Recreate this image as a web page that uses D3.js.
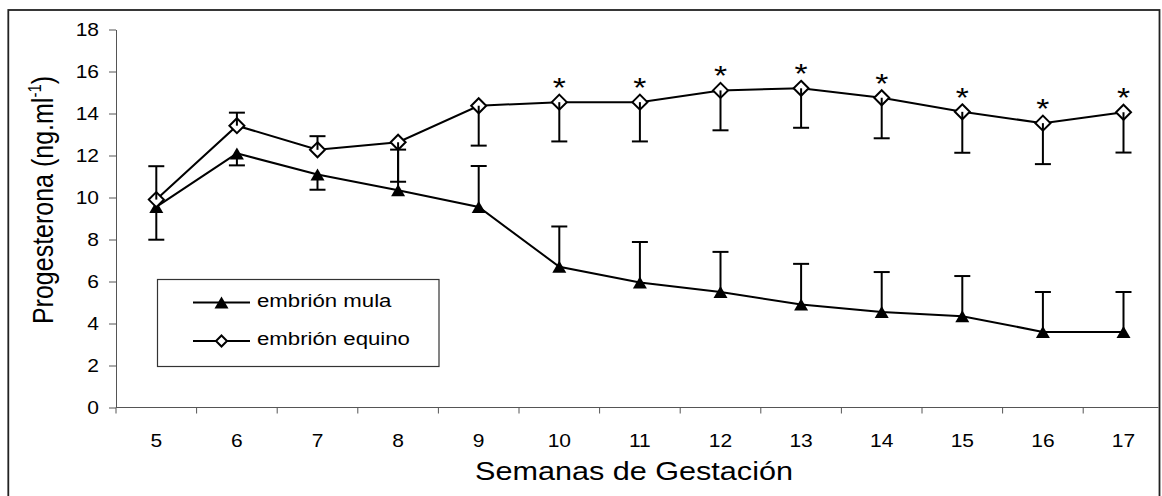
<!DOCTYPE html>
<html>
<head>
<meta charset="utf-8">
<script src="https://cdn.jsdelivr.net/npm/d3@7"></script>
<style>
  html, body { margin: 0; padding: 0; background: #fff; }
  svg { display: block; }
  text { font-family: "Liberation Sans", Arial, Helvetica, sans-serif; fill: #000; }
</style>
</head>
<body>
<svg id="chart" width="1162" height="496"></svg>
<script>
// ---- data ----
const weeks = [5, 6, 7, 8, 9, 10, 11, 12, 13, 14, 15, 16, 17];
const mula = [9.55, 12.1, 11.1, 10.35, 9.55, 6.7, 5.95, 5.5, 4.9, 4.55, 4.35, 3.6, 3.6];
const equino = [9.9, 13.42, 12.27, 12.63, 14.37, 14.54, 14.54, 15.1, 15.2, 14.75, 14.08, 13.54, 14.06];
const mulaErr = [1.56, 0.57, 0.73, 1.93, 1.95, 1.92, 1.93, 1.91, 1.94, 1.9, 1.91, 1.9, 1.9];
const mulaErrSign = [-1, -1, -1, 1, 1, 1, 1, 1, 1, 1, 1, 1, 1];
const equinoErr = [1.59, 0.62, 0.65, 1.88, 1.9, 1.87, 1.87, 1.9, 1.88, 1.93, 1.95, 1.95, 1.92];
const equinoErrSign = [1, 1, 1, -1, -1, -1, -1, -1, -1, -1, -1, -1, -1];
const significant = [false, false, false, false, false, true, true, true, true, true, true, true, true];
const yTicks = [0, 2, 4, 6, 8, 10, 12, 14, 16, 18];
const seriesNames = ["embrión mula", "embrión equino"];
const xTitle = "Semanas de Gestación";
const yTitle = "Progesterona (ng.ml";

// ---- layout ----
const svg = d3.select("#chart");
const SX = 1.2; // horizontal glyph stretch of the original
const plotLeft = 116, plotTop = 29.5, plotBottom = 407.5, bandW = 80.6, plotRightClip = 1158.5;

const x = d3.scaleBand().domain(weeks).range([plotLeft, plotLeft + bandW * weeks.length]).padding(0);
const y = d3.scaleLinear().domain([0, 18]).range([plotBottom, plotTop]);
const cx = w => x(w) + x.bandwidth() / 2;

svg.append("clipPath").attr("id", "clip").append("rect")
  .attr("x", 0).attr("y", 0).attr("width", plotRightClip).attr("height", 496);

// outer border
svg.append("rect").attr("x", 8.3).attr("y", 10).attr("width", 1151.2).attr("height", 500)
  .attr("fill", "none").attr("stroke", "#222").attr("stroke-width", 1.8);

// y axis
const yAxis = svg.append("g").attr("transform", `translate(${plotLeft},0)`)
  .call(d3.axisLeft(y).tickValues(yTicks).tickSize(7).tickSizeOuter(0));
yAxis.select(".domain").attr("stroke", "#555");
yAxis.selectAll(".tick line").attr("stroke", "#555");
yAxis.selectAll(".tick text")
  .attr("x", 0).attr("dy", "0.36em")
  .attr("transform", `translate(-17,0) scale(${SX},1)`)
  .attr("font-size", 17.5).attr("fill", "#000").attr("text-anchor", "end")
  .style("font-family", "'Liberation Sans', Arial, sans-serif");

// x axis
const xAxisG = svg.append("g").attr("clip-path", "url(#clip)");
xAxisG.append("line").attr("x1", plotLeft).attr("x2", x.range()[1])
  .attr("y1", plotBottom).attr("y2", plotBottom).attr("stroke", "#555");
const boundaries = weeks.map(w => x(w)).concat([x.range()[1]]);
xAxisG.selectAll("line.xt").data(boundaries).join("line").attr("class", "xt")
  .attr("x1", d => d).attr("x2", d => d).attr("y1", plotBottom).attr("y2", plotBottom + 6)
  .attr("stroke", "#555");
const xAxis = svg.append("g").attr("transform", `translate(0,${plotBottom})`)
  .call(d3.axisBottom(x).tickSize(0));
xAxis.select(".domain").remove();
xAxis.selectAll(".tick text")
  .attr("y", 0).attr("dy", null)
  .attr("transform", `translate(0,39.5) scale(${SX},1)`)
  .attr("font-size", 17.5).attr("fill", "#000")
  .style("font-family", "'Liberation Sans', Arial, sans-serif");

// axis titles
svg.append("text").attr("text-anchor", "middle").attr("font-size", 25.5)
  .attr("transform", `translate(634,480) scale(${SX},1)`).text(xTitle);

const yt = svg.append("text").attr("text-anchor", "middle").attr("font-size", 25)
  .attr("transform", `translate(53.3,200) scale(${SX},1) rotate(-90)`);
yt.append("tspan").text(yTitle);
yt.append("tspan").attr("font-size", 15).attr("dy", -10).text("-1");
yt.append("tspan").attr("dy", 10).text(")");

// marker shapes
const triPath = s => `M0,${-s * 0.43}L${s / 2},${s * 0.43}L${-s / 2},${s * 0.43}Z`;
const diaPath = s => `M0,${-s}L${s},0L0,${s}L${-s},0Z`;

const line = d3.line().x(d => cx(d.w)).y(d => y(d.v));
const mulaData = weeks.map((w, i) => ({ w, v: mula[i], e: mulaErr[i], s: mulaErrSign[i] }));
const equinoData = weeks.map((w, i) => ({ w, v: equino[i], e: equinoErr[i], s: equinoErrSign[i], sig: significant[i] }));

// series lines
[mulaData, equinoData].forEach(data => {
  svg.append("path").datum(data).attr("d", line)
    .attr("fill", "none").attr("stroke", "#000").attr("stroke-width", 2);
});

// markers
svg.selectAll("path.tri").data(mulaData).join("path").attr("class", "tri")
  .attr("transform", d => `translate(${cx(d.w)},${y(d.v)})`)
  .attr("d", triPath(14)).attr("fill", "#000");
svg.selectAll("path.dia").data(equinoData).join("path").attr("class", "dia")
  .attr("transform", d => `translate(${cx(d.w)},${y(d.v)})`)
  .attr("d", diaPath(7.5)).attr("fill", "#fff").attr("stroke", "#000").attr("stroke-width", 2);

// error bars
function errorBars(data, cls) {
  const g = svg.append("g").attr("class", cls);
  g.selectAll("line.v").data(data).join("line").attr("class", "v")
    .attr("x1", d => cx(d.w)).attr("x2", d => cx(d.w))
    .attr("y1", d => y(d.v)).attr("y2", d => y(d.v + d.s * d.e))
    .attr("stroke", "#000").attr("stroke-width", 2);
  g.selectAll("line.c").data(data).join("line").attr("class", "c")
    .attr("x1", d => cx(d.w) - 8).attr("x2", d => cx(d.w) + 8)
    .attr("y1", d => y(d.v + d.s * d.e)).attr("y2", d => y(d.v + d.s * d.e))
    .attr("stroke", "#000").attr("stroke-width", 2);
}
errorBars(mulaData, "errM");
errorBars(equinoData, "errE");

// significance stars
svg.selectAll("text.star").data(equinoData.filter(d => d.sig)).join("text").attr("class", "star")
  .attr("text-anchor", "middle").attr("font-size", 28)
  .attr("transform", d => `translate(${cx(d.w)},${y(d.v) - 5}) scale(${SX},1)`)
  .text("*");

// legend
const lg = svg.append("g");
lg.append("rect").attr("x", 157.5).attr("y", 279.5).attr("width", 281.5).attr("height", 87)
  .attr("fill", "#fff").attr("stroke", "#333").attr("stroke-width", 1.2);
const rows = [302.5, 341];
rows.forEach((ry, i) => {
  lg.append("line").attr("x1", 193).attr("x2", 250).attr("y1", ry).attr("y2", ry)
    .attr("stroke", "#000").attr("stroke-width", 2);
  if (i === 0) {
    lg.append("path").attr("transform", `translate(221.5,${ry})`).attr("d", triPath(14)).attr("fill", "#000");
  } else {
    lg.append("path").attr("transform", `translate(221.5,${ry})`).attr("d", diaPath(5.5))
      .attr("fill", "#fff").attr("stroke", "#000").attr("stroke-width", 2);
  }
  lg.append("text").attr("font-size", 18.5)
    .attr("transform", `translate(257,${ry + 4}) scale(${SX},1)`)
    .text(seriesNames[i]);
});
</script>
</body>
</html>
